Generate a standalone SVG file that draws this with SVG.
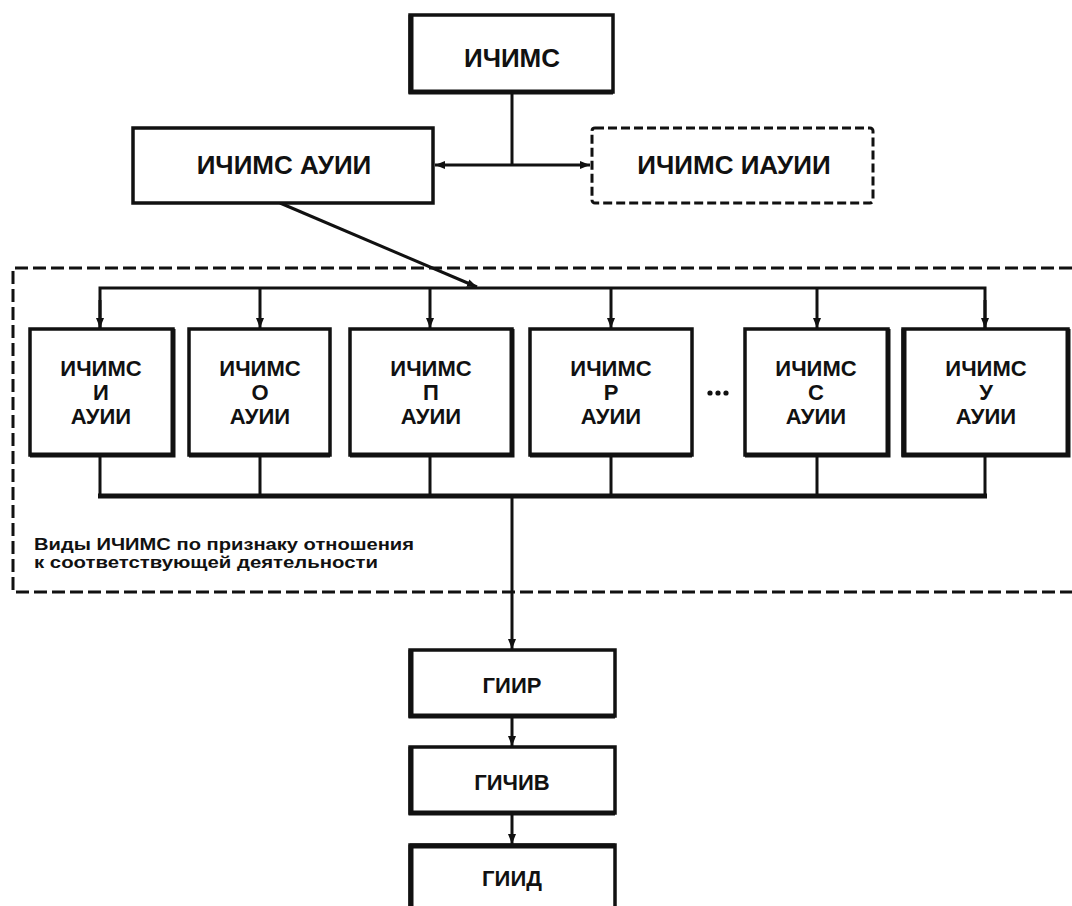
<svg xmlns="http://www.w3.org/2000/svg" width="1072" height="906" viewBox="0 0 1072 906">
  <style>
    .box { fill: #fff; stroke: #111; stroke-width: 3.5; }
    .dbox { fill: #fff; stroke: #111; stroke-width: 3; stroke-dasharray: 9 4; }
    .grp { fill: none; stroke: #111; stroke-width: 3; stroke-dasharray: 13 5; }
    .edge { fill: none; stroke: #111; stroke-width: 5; }
    .ln { fill: none; stroke: #111; stroke-width: 3; }
    .bus { fill: none; stroke: #111; stroke-width: 5; }
    .t { font-family: "Liberation Sans", Arial, sans-serif; font-weight: bold; fill: #111; text-anchor: middle; }
    .t26 { font-size: 26px; }
    .t22 { font-size: 22px; }
    .cap { font-family: "Liberation Sans", Arial, sans-serif; font-weight: bold; font-size: 17px; fill: #111; }
  </style>
  <defs>
    <marker id="ah" viewBox="0 0 10 8" refX="10" refY="4" markerWidth="10" markerHeight="8" markerUnits="userSpaceOnUse" orient="auto-start-reverse">
      <path d="M0,0 L10,4 L0,8 Z" fill="#111"/>
    </marker>
  </defs>
  <rect width="1072" height="906" fill="#fff"/>

  <g id="group-frame">
    <path class="grp" d="M1072,268 H13 V592 H1072"/>
    <text class="cap" x="34" y="550" textLength="380" lengthAdjust="spacingAndGlyphs">Виды ИЧИМС по признаку отношения</text>
    <text class="cap" x="34" y="568" textLength="344" lengthAdjust="spacingAndGlyphs">к соответствующей деятельности</text>
  </g>

  <g id="connectors">
    <path class="ln" d="M512,92 V165"/>
    <path class="ln" d="M512,165 H435" marker-end="url(#ah)"/>
    <path class="ln" d="M512,165 H590" marker-end="url(#ah)"/>
    <path class="ln" d="M280,203 L477,287" marker-end="url(#ah)"/>
    <path class="ln" d="M100,328 V288 H985 V328"/>
    <path class="ln" d="M100,300 V328" marker-end="url(#ah)"/>
    <path class="ln" d="M260,288 V328" marker-end="url(#ah)"/>
    <path class="ln" d="M430,288 V328" marker-end="url(#ah)"/>
    <path class="ln" d="M611,288 V328" marker-end="url(#ah)"/>
    <path class="ln" d="M817,288 V328" marker-end="url(#ah)"/>
    <path class="ln" d="M985,300 V328" marker-end="url(#ah)"/>
    <path class="ln" d="M100,455 V496 M260,455 V496 M430,455 V496 M611,455 V496 M817,455 V496 M985,455 V496"/>
    <path class="bus" d="M98,496 H987"/>
    <path class="ln" d="M512,496 V649" marker-end="url(#ah)"/>
    <path class="ln" d="M512,716 V746" marker-end="url(#ah)"/>
    <path class="ln" d="M512,813 V844" marker-end="url(#ah)"/>
  </g>

  <g id="ichims">
    <rect class="box" x="410" y="15" width="203" height="77"/>
    <path class="edge" d="M411,15 V92 H613"/>
    <text class="t t26" x="512" y="67">ИЧИМС</text>
  </g>
  <g id="ichims-auii">
    <rect class="box" x="133" y="128" width="300" height="75"/>
    <text class="t t26" x="284" y="174">ИЧИМС АУИИ</text>
  </g>
  <g id="ichims-iauii">
    <rect class="dbox" x="592" y="128" width="281" height="75" rx="3"/>
    <text class="t t26" x="734" y="174">ИЧИМС ИАУИИ</text>
  </g>

  <g id="box-i">
    <rect class="box" x="30" y="329" width="143" height="126"/>
    <path class="edge" d="M30,455 H173 V329"/>
    <text class="t t22" x="101" y="376">ИЧИМС</text>
    <text class="t t22" x="101" y="400">И</text>
    <text class="t t22" x="101" y="424">АУИИ</text>
  </g>
  <g id="box-o">
    <rect class="box" x="189" y="329" width="141" height="126"/>
    <path class="edge" d="M189,455 H330"/>
    <text class="t t22" x="260" y="376">ИЧИМС</text>
    <text class="t t22" x="260" y="400">О</text>
    <text class="t t22" x="260" y="424">АУИИ</text>
  </g>
  <g id="box-p">
    <rect class="box" x="350" y="329" width="162" height="126"/>
    <path class="edge" d="M350,455 H512 V329"/>
    <text class="t t22" x="431" y="376">ИЧИМС</text>
    <text class="t t22" x="431" y="400">П</text>
    <text class="t t22" x="431" y="424">АУИИ</text>
  </g>
  <g id="box-r">
    <rect class="box" x="530" y="329" width="162" height="126"/>
    <path class="edge" d="M530,455 H692"/>
    <text class="t t22" x="611" y="376">ИЧИМС</text>
    <text class="t t22" x="611" y="400">Р</text>
    <text class="t t22" x="611" y="424">АУИИ</text>
  </g>
  <g id="ellipsis">
    <circle cx="710" cy="393" r="2.6" fill="#111"/>
    <circle cx="718" cy="393" r="2.6" fill="#111"/>
    <circle cx="726" cy="393" r="2.6" fill="#111"/>
  </g>
  <g id="box-s">
    <rect class="box" x="745" y="329" width="143" height="126"/>
    <path class="edge" d="M745,455 H888 V329"/>
    <text class="t t22" x="816" y="376">ИЧИМС</text>
    <text class="t t22" x="816" y="400">С</text>
    <text class="t t22" x="816" y="424">АУИИ</text>
  </g>
  <g id="box-u">
    <rect class="box" x="903" y="329" width="165" height="126"/>
    <path class="edge" d="M904,329 V455 H1068 V329"/>
    <text class="t t22" x="986" y="376">ИЧИМС</text>
    <text class="t t22" x="986" y="400">У</text>
    <text class="t t22" x="986" y="424">АУИИ</text>
  </g>

  <g id="giir">
    <rect class="box" x="410" y="650" width="205" height="66"/>
    <path class="edge" d="M411,650 V716 H615"/>
    <text class="t t22" x="512" y="693">ГИИР</text>
  </g>
  <g id="gichiv">
    <rect class="box" x="410" y="747" width="205" height="66"/>
    <path class="edge" d="M411,747 V813 H615"/>
    <text class="t t22" x="512" y="790">ГИЧИВ</text>
  </g>
  <g id="giid">
    <rect class="box" x="410" y="845" width="205" height="80"/>
    <path class="edge" d="M411,845 V925 M410,846 H615"/>
    <text class="t t22" x="512" y="886">ГИИД</text>
  </g>
</svg>
